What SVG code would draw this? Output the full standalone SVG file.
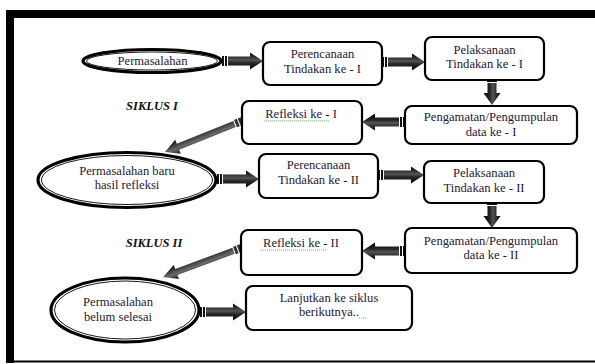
<svg xmlns="http://www.w3.org/2000/svg" width="595" height="364" viewBox="0 0 595 364">
<defs>
<linearGradient id="gh" x1="0" y1="0" x2="0" y2="1">
<stop offset="0" stop-color="#000"/>
<stop offset="0.45" stop-color="#555"/>
<stop offset="0.6" stop-color="#2a2a2a"/>
<stop offset="1" stop-color="#000"/>
</linearGradient>
<linearGradient id="gd" x1="0" y1="0" x2="0" y2="1">
<stop offset="0" stop-color="#111"/>
<stop offset="0.4" stop-color="#6a6a6a"/>
<stop offset="0.7" stop-color="#3a3a3a"/>
<stop offset="1" stop-color="#0a0a0a"/>
</linearGradient>
</defs>
<style>
.box{fill:#fff;stroke:#000;stroke-width:2.2}
.eo{fill:#fff;stroke:#000;stroke-width:3.2}
.ei{fill:none;stroke:#000;stroke-width:0.9}
.t{font-family:"Liberation Serif","Times New Roman",serif;font-size:12.6px;fill:#1e2035;text-anchor:middle}
.h{font-family:"Liberation Serif","Times New Roman",serif;font-size:12.5px;font-weight:bold;font-style:italic;fill:#111;text-anchor:middle}
.arr{fill:url(#gh)}
.tail{fill:#111}
.darr{fill:url(#gd)}
.dtail{fill:#333}
.sq{fill:none;stroke:#3cb043;stroke-width:0.8;stroke-dasharray:1 1}
</style>
<rect x="6" y="10" width="589" height="8" fill="#000"/>
<rect x="6" y="10" width="8" height="353" fill="#000"/>
<rect x="6" y="360.5" width="589" height="2" fill="#000"/>

<g id="connectors">
<g transform="translate(222,61)"><rect class="tail" x="0" y="-5" width="2" height="10"/><rect class="tail" x="3" y="-5" width="2" height="10"/><path class="arr" d="M6,-4.5H28V-8.5L41,0L28,8.5V4.5H6Z"/></g>
<g transform="translate(382,62)"><rect class="tail" x="0" y="-5" width="2" height="10"/><rect class="tail" x="3" y="-5" width="2" height="10"/><path class="arr" d="M6,-4.5H30V-8.5L43,0L30,8.5V4.5H6Z"/></g>
<g transform="translate(492,80) rotate(90)"><rect class="tail" x="0" y="-5" width="2" height="10"/><path class="arr" d="M3,-4.5H13V-8.5L25,0L13,8.5V4.5H3Z"/></g>
<g transform="translate(405,122) rotate(180)"><rect class="tail" x="0" y="-5" width="2" height="10"/><rect class="tail" x="3" y="-5" width="2" height="10"/><path class="arr" d="M6,-4.5H30V-8.5L43,0L30,8.5V4.5H6Z"/></g>
<g transform="translate(242,121) rotate(158.1)"><rect class="dtail" x="0" y="-4" width="3" height="8"/><rect class="dtail" x="4" y="-4" width="3" height="8"/><path class="darr" d="M8,-3.2H69V-7.5L83,0L69,7.5V3.2H8Z"/></g>
<g transform="translate(217,179)"><rect class="tail" x="0" y="-5" width="2" height="10"/><rect class="tail" x="3" y="-5" width="2" height="10"/><path class="arr" d="M6,-4.5H29V-8.5L42,0L29,8.5V4.5H6Z"/></g>
<g transform="translate(378,175)"><rect class="tail" x="0" y="-5" width="2" height="10"/><rect class="tail" x="3" y="-5" width="2" height="10"/><path class="arr" d="M6,-4.5H33V-8.5L46,0L33,8.5V4.5H6Z"/></g>
<g transform="translate(492,203) rotate(90)"><rect class="tail" x="0" y="-5" width="2" height="10"/><path class="arr" d="M3,-4.5H13V-8.5L25,0L13,8.5V4.5H3Z"/></g>
<g transform="translate(405,251) rotate(180)"><rect class="tail" x="0" y="-5" width="2" height="10"/><rect class="tail" x="3" y="-5" width="2" height="10"/><path class="arr" d="M6,-4.5H30V-8.5L43,0L30,8.5V4.5H6Z"/></g>
<g transform="translate(241,248) rotate(159.6)"><rect class="dtail" x="0" y="-4" width="3" height="8"/><rect class="dtail" x="4" y="-4" width="3" height="8"/><path class="darr" d="M8,-3.2H69V-7.5L83,0L69,7.5V3.2H8Z"/></g>
<g transform="translate(200,312)"><rect class="tail" x="0" y="-5" width="2" height="10"/><rect class="tail" x="3" y="-5" width="2" height="10"/><path class="arr" d="M6,-4.5H33V-8.5L46,0L33,8.5V4.5H6Z"/></g>
</g>

<g id="e1">
<ellipse class="eo" cx="152" cy="61" rx="69" ry="11.5"/>
<ellipse class="ei" cx="152" cy="61" rx="65.5" ry="9"/>
<text class="t" x="152.5" y="64.5">Permasalahan</text>
</g>
<g id="b1">
<rect class="box" x="263" y="42" width="119" height="43" rx="7"/>
<text class="t" x="322.5" y="58">Perencanaan</text>
<text class="t" x="322.5" y="73">Tindakan ke - I</text>
</g>
<g id="b2">
<rect class="box" x="425" y="37" width="119" height="43" rx="7"/>
<text class="t" x="484.5" y="54">Pelaksanaan</text>
<text class="t" x="484.5" y="68">Tindakan ke - I</text>
</g>
<g id="l1"><text class="h" x="152" y="110">SIKLUS I</text></g>
<g id="b3">
<rect class="box" x="405" y="106" width="172" height="38" rx="7"/>
<text class="t" x="491" y="121">Pengamatan/Pengumpulan</text>
<text class="t" x="491" y="136">data ke - I</text>
</g>
<g id="b4">
<rect class="box" x="242" y="101" width="120" height="43" rx="7"/>
<text class="t" x="301" y="118">Refleksi  ke - I</text>
<path class="sq" d="M264,121H329"/>
</g>
<g id="e2">
<ellipse class="eo" cx="127" cy="180" rx="89" ry="27.5"/>
<ellipse class="ei" cx="127" cy="180" rx="85.5" ry="24.5"/>
<text class="t" x="127" y="175">Permasalahan baru</text>
<text class="t" x="127" y="189">hasil refleksi</text>
</g>
<g id="b5">
<rect class="box" x="259" y="154" width="119" height="44" rx="7"/>
<text class="t" x="318.5" y="169">Perencanaan</text>
<text class="t" x="318.5" y="184">Tindakan ke - II</text>
</g>
<g id="b6">
<rect class="box" x="424" y="161" width="120" height="42" rx="7"/>
<text class="t" x="484" y="177">Pelaksanaan</text>
<text class="t" x="484" y="192">Tindakan ke - II</text>
</g>
<g id="l2"><text class="h" x="154" y="247">SIKLUS II</text></g>
<g id="b7">
<rect class="box" x="405" y="228" width="172" height="45" rx="7"/>
<text class="t" x="491" y="245">Pengamatan/Pengumpulan</text>
<text class="t" x="491" y="259">data ke - II</text>
</g>
<g id="b8">
<rect class="box" x="241" y="230" width="121" height="45" rx="7"/>
<text class="t" x="301" y="247">Refleksi  ke - II</text>
<path class="sq" d="M261,250H326"/>
</g>
<g id="e3">
<ellipse class="eo" cx="125" cy="310" rx="74" ry="32"/>
<ellipse class="ei" cx="125" cy="310" rx="70.5" ry="29"/>
<text class="t" x="118" y="306">Permasalahan</text>
<text class="t" x="118" y="321">belum selesai</text>
</g>
<g id="b9">
<rect class="box" x="246" y="286" width="166" height="44" rx="7"/>
<text class="t" x="329" y="302">Lanjutkan ke siklus</text>
<text class="t" x="329" y="316">berikutnya..</text>
<path class="sq" d="M359,318H366"/>
</g>
</svg>
